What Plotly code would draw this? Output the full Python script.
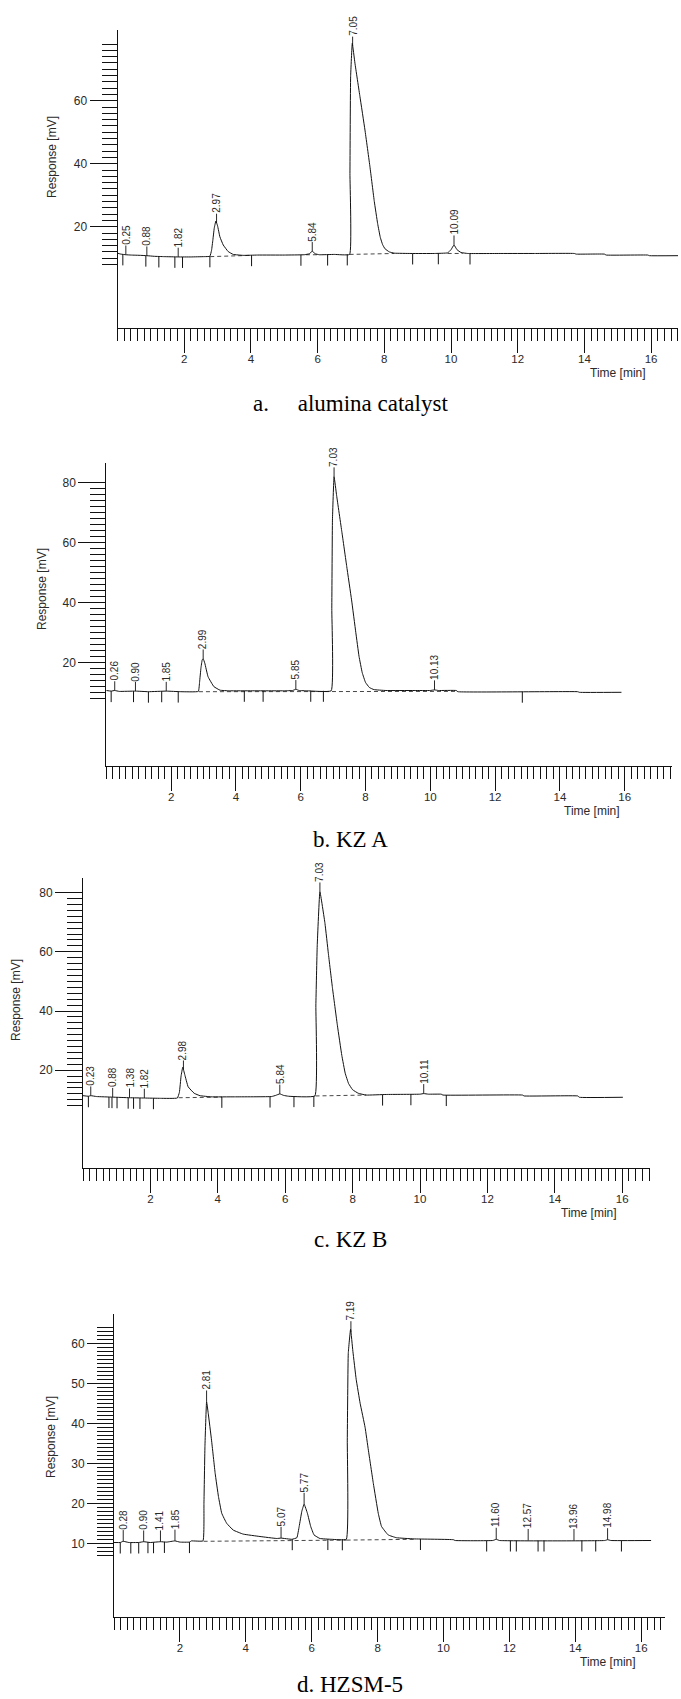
import numpy as np
import plotly.graph_objects as go

W, H = 681, 1699

# ---------------- data ----------------
# a. alumina catalyst
a_time = [0.00, 0.10, 0.25, 0.40, 0.70, 0.88, 1.10, 1.40, 1.82, 2.20, 2.60, 2.77,
          2.82, 2.86, 2.90, 2.95, 3.00, 3.07, 3.17, 3.32, 3.47, 3.77, 4.20, 5.00,
          5.60, 5.75, 5.84, 5.93, 6.05, 6.50, 6.96, 6.97, 6.99, 7.04, 7.12, 7.27,
          7.42, 7.57, 7.70, 7.80, 7.88, 7.95, 8.02, 8.15, 8.30, 8.80, 9.50, 9.90,
          10.00, 10.09, 10.18, 10.30, 10.50, 11.50, 12.50, 13.70, 13.75, 14.60, 14.65, 15.90,
          15.95, 16.81]
a_resp = [11.6, 11.3, 11.1, 11.0, 10.9, 10.8, 10.6, 10.5, 10.4, 10.4, 10.5, 10.6,
          12.5, 15.8, 19.5, 21.8, 20.3, 16.8, 14.2, 12.1, 11.2, 10.9, 11.0, 11.0,
          11.1, 11.4, 12.2, 11.4, 11.1, 11.2, 11.2, 36.9, 67.6, 78.2, 71.9, 61.3,
          50.7, 39.0, 28.0, 21.0, 16.6, 14.3, 13.0, 12.0, 11.6, 11.5, 11.5, 11.7,
          12.7, 14.2, 12.7, 11.8, 11.5, 11.5, 11.5, 11.5, 11.3, 11.3, 11.0, 11.0,
          10.8, 10.8]
a_peak_labels = ["0.25", "0.88", "1.82", "2.97", "5.84", "7.05", "10.09"]
a_marks = [0.16, 0.85, 1.24, 1.72, 1.95, 2.77, 4.02, 5.50, 6.30, 6.89, 8.85, 9.62, 10.57]
a_base_time = [[2.78, 4.00], [5.65, 6.05], [6.96, 8.30], [9.90, 10.35]]
a_base_resp = [[10.5, 10.9], [11.1, 11.1], [11.2, 11.5], [11.5, 11.5]]
a_ytick_labels = [20, 40, 60]

# b. KZ A
b_time = [0.00, 0.15, 0.26, 0.40, 0.90, 1.30, 1.85, 2.30,
          2.84, 2.88, 2.92, 2.96, 2.99, 3.04, 3.14, 3.32, 3.51, 3.80,
          4.50, 5.50, 5.75, 5.85, 5.95, 6.20, 6.94, 6.96, 6.98, 7.03,
          7.11, 7.27, 7.42, 7.57, 7.70, 7.80, 7.90, 8.00, 8.12, 8.26, 8.63,
          9.50, 10.00, 10.13, 10.25, 10.80, 10.85, 14.55, 14.60, 15.90]
b_resp = [10.6, 10.4, 10.6, 10.3, 10.4, 10.2, 10.4, 10.2,
          10.3, 13.5, 18.0, 20.8, 21.2, 19.7, 15.2, 11.9, 10.7, 10.5,
          10.5, 10.5, 10.6, 11.0, 10.6, 10.5, 10.5, 38.0, 67.4, 81.9,
          75.5, 63.5, 52.0, 40.8, 30.0, 22.0, 16.5, 13.3, 11.6, 10.9, 10.6,
          10.6, 10.6, 10.8, 10.6, 10.6, 10.2, 10.2, 10.0, 10.0]
b_peak_labels = ["0.26", "0.90", "1.85", "2.99", "5.85", "7.03", "10.13"]
b_marks = [0.15, 0.84, 1.30, 1.71, 2.22, 4.26, 4.84, 6.31, 6.70, 12.84]
b_base_time = [[2.86, 10.85]]
b_base_resp = [[10.2, 10.3]]
b_ytick_labels = [20, 40, 60, 80]

# c. KZ B
c_time = [0.00, 0.16, 0.23, 0.40, 0.88, 1.38, 1.82, 2.30,
          2.80, 2.86, 2.91, 2.96, 3.02, 3.12, 3.30, 3.47, 3.80, 4.50,
          5.60, 5.72, 5.84, 5.95, 6.10, 6.88, 6.91, 6.95, 7.03, 7.18,
          7.28, 7.40, 7.55, 7.68, 7.78, 7.88, 8.00, 8.17, 8.40, 9.00, 10.00,
          10.11, 10.25, 10.63, 10.68, 13.04, 13.09, 14.68, 14.73, 16.02]
c_resp = [11.4, 11.2, 11.4, 11.1, 10.9, 10.7, 10.6, 10.5,
          10.6, 12.5, 18.0, 21.0, 18.5, 14.4, 12.2, 11.4, 11.0, 11.0,
          11.1, 11.5, 12.0, 11.5, 11.2, 11.3, 42.0, 62.0, 80.3, 69.6,
          59.5, 48.0, 35.0, 25.0, 19.0, 15.5, 13.4, 12.2, 11.6, 11.8, 11.9,
          12.1, 11.9, 11.9, 11.6, 11.6, 11.3, 11.3, 10.85, 10.85]
c_peak_labels = ["0.23", "0.88", "1.38", "1.82", "2.98", "5.84", "7.03", "10.11"]
c_marks = [0.16, 0.77, 0.86, 1.01, 1.34, 1.50, 1.69, 2.09, 4.12, 5.55, 6.26, 6.85,
           8.89, 9.73, 10.78]
c_base_time = [[2.84, 4.12], [6.90, 8.40]]
c_base_resp = [[10.7, 10.9], [11.3, 11.6]]
c_ytick_labels = [20, 40, 60, 80]

# d. HZSM-5
d_time = [0.00, 0.19, 0.28, 0.45, 0.75, 0.90, 1.10, 1.41, 1.60, 1.85,
          2.00, 2.29, 2.35, 2.70, 2.73, 2.76, 2.81, 2.86, 2.96, 3.07,
          3.17, 3.27, 3.42, 3.62, 3.92, 4.43, 4.94, 5.07, 5.40, 5.55,
          5.62, 5.70, 5.77, 5.87, 5.97, 6.07, 6.25, 6.60, 7.05, 7.08,
          7.11, 7.18, 7.25, 7.35, 7.47, 7.62, 7.72, 7.87, 8.02, 8.12,
          8.32, 8.57, 9.10, 10.30, 10.35, 11.50, 11.60, 11.70, 14.90, 14.98,
          15.08, 16.30]
d_resp = [10.2, 10.2, 10.5, 10.2, 10.2, 10.4, 10.2, 10.4, 10.3, 10.6,
          10.3, 10.3, 10.6, 10.6, 20.0, 34.2, 45.4, 42.5, 35.8, 27.5,
          21.7, 17.5, 15.0, 13.3, 12.3, 11.7, 11.2, 11.3, 11.0, 11.4,
          14.2, 18.0, 19.8, 17.5, 14.2, 12.1, 11.2, 11.0, 11.0, 35.8,
          57.5, 63.5, 58.0, 51.0, 45.0, 39.0, 33.3, 25.0, 17.5, 14.2,
          12.1, 11.4, 11.1, 10.9, 10.7, 10.7, 11.0, 10.7, 10.7, 10.9,
          10.7, 10.7]
d_peak_labels = ["0.28", "0.90", "1.41", "1.85", "2.81", "5.07", "5.77", "7.19",
                 "11.60", "12.57", "13.96", "14.98"]
d_marks = [0.19, 0.51, 0.75, 1.03, 1.20, 1.53, 2.29, 5.41, 6.49, 6.93, 9.30, 11.31,
           12.03, 12.21, 12.87, 13.05, 14.20, 14.62, 15.40]
d_base_time = [[2.72, 7.06], [7.06, 9.10]]
d_base_resp = [[10.5, 10.8], [10.8, 11.0]]
d_ytick_labels = [10, 20, 30, 40, 50, 60]

x_tick_labels = [2, 4, 6, 8, 10, 12, 14, 16]
captions = ["a.\u00a0\u00a0\u00a0\u00a0\u00a0alumina catalyst", "b. KZ A", "c. KZ B", "d. HZSM-5"]

# ---------------- layout geometry (pixels) ----------------
GEOM = [
    dict(left=117.5, right=678, top=30, bottom=328.3, pxpm=33.35, yref_px=226.7, vref=20,
         pxmv=3.15, ymaj=(10, 70, 10), ymin_t=(8, 78, 2), ymajlen=27, yminlen=15,
         resp_xy=(52, 157), gap=9, cap_dy=75),
    dict(left=106.3, right=672, top=463.3, bottom=766, pxpm=32.4, yref_px=662.3, vref=20,
         pxmv=3.0, ymaj=(10, 80, 10), ymin_t=(8, 80, 2), ymajlen=27, yminlen=15,
         resp_xy=(42, 589), gap=9, cap_dy=73),
    dict(left=83, right=650, top=878.3, bottom=1168.3, pxpm=33.7, yref_px=1070.2, vref=20,
         pxmv=2.96, ymaj=(10, 80, 10), ymin_t=(8, 80, 2), ymajlen=27, yminlen=15,
         resp_xy=(16, 1000), gap=9, cap_dy=71),
    dict(left=114, right=665, top=1314, bottom=1616.7, pxpm=32.95, yref_px=1503.3, vref=20,
         pxmv=4.0, ymaj=(10, 60, 5), ymin_t=(7, 64, 1), ymajlen=26, yminlen=16,
         resp_xy=(51, 1437), gap=11, cap_dy=71),
]

PANELS = [
    (a_time, a_resp, a_peak_labels, a_marks, a_base_time, a_base_resp, a_ytick_labels),
    (b_time, b_resp, b_peak_labels, b_marks, b_base_time, b_base_resp, b_ytick_labels),
    (c_time, c_resp, c_peak_labels, c_marks, c_base_time, c_base_resp, c_ytick_labels),
    (d_time, d_resp, d_peak_labels, d_marks, d_base_time, d_base_resp, d_ytick_labels),
]

INK = "#111111"
TXT = "#2a2a2a"
SANS = "Liberation Sans, Arial, sans-serif"
SERIF = "Liberation Serif, Times New Roman, serif"
CAP_SIZE = 23

fig = go.Figure()
annotations = []
layout = {}

def px2paper(x, y):
    return x / W, 1 - y / H

for i, (g, p) in enumerate(zip(GEOM, PANELS), start=1):
    T, V, labels, marks, bt, bv, ylabels = p
    assert len(T) == len(V)
    xr = 'x' if i == 1 else f'x{i}'
    yr = 'y' if i == 1 else f'y{i}'
    xmax = (g['right'] - g['left']) / g['pxpm']
    ymax = g['vref'] + (g['yref_px'] - g['top']) / g['pxmv']
    ymin = g['vref'] - (g['bottom'] - g['yref_px']) / g['pxmv']

    # dashed baselines
    for seg_t, seg_v in zip(bt, bv):
        fig.add_trace(go.Scatter(x=seg_t, y=seg_v, mode='lines', xaxis=xr, yaxis=yr,
                                 line=dict(color='#333333', width=0.9, dash='4px,3px'),
                                 hoverinfo='skip'))
    # integration markers
    mk_len = 11 / g['pxmv']
    mx, my = [], []
    for m in marks:
        v0 = float(np.interp(m, T, V))
        mx += [m, m, None]
        my += [v0, v0 - mk_len, None]
    fig.add_trace(go.Scatter(x=mx, y=my, mode='lines', xaxis=xr, yaxis=yr,
                             line=dict(color=INK, width=1), hoverinfo='skip'))
    # chromatogram
    fig.add_trace(go.Scatter(x=T, y=V, mode='lines', xaxis=xr, yaxis=yr,
                             line=dict(color=INK, width=1, shape='spline', smoothing=0.3)))

    # peak labels
    for lab in labels:
        t = float(lab)
        v = float(np.interp(t, T, V))
        n_dig = sum(ch.isdigit() for ch in lab)
        tlen = n_dig * 5.56 + 2.78
        annotations.append(dict(
            x=t, y=v, xref=xr, yref=yr, text=lab, textangle=-90,
            showarrow=True, arrowhead=0, arrowwidth=0.9, arrowcolor=INK,
            ax=0, ay=-(g['gap'] + tlen / 2 + 1), standoff=0, borderpad=0,
            font=dict(family=SANS, size=10, color=TXT)))

    xdom = [g['left'] / W, g['right'] / W]
    ydom = [1 - g['bottom'] / H, 1 - g['top'] / H]

    ymaj = list(np.arange(g['ymaj'][0], g['ymaj'][1] + 0.001, g['ymaj'][2]))
    ymin_v = list(np.arange(g['ymin_t'][0], g['ymin_t'][1] + 0.001, g['ymin_t'][2]))
    ytext = [str(int(round(v))) if int(round(v)) in ylabels else '' for v in ymaj]

    xmaj = list(range(0, int(np.floor(xmax)) + 1))
    xtext = [str(k) if k in x_tick_labels else '' for k in xmaj]
    xmin_v = [round(0.2 * k, 2) for k in range(0, int(np.floor(xmax / 0.2)) + 1)]

    layout['xaxis' if i == 1 else f'xaxis{i}'] = dict(
        domain=xdom, range=[0, xmax], anchor=yr, showgrid=False, zeroline=False,
        showline=True, linecolor=INK, linewidth=1,
        tickmode='array', tickvals=xmaj, ticktext=xtext, ticks='outside',
        ticklen=24, tickwidth=1, tickcolor=INK, ticklabelstandoff=-4,
        tickfont=dict(family=SANS, size=11.5, color=TXT),
        minor=dict(tickmode='array', tickvals=xmin_v, ticks='outside', ticklen=12,
                   tickwidth=1, tickcolor=INK, showgrid=False),
        fixedrange=True)
    layout['yaxis' if i == 1 else f'yaxis{i}'] = dict(
        domain=ydom, range=[ymin, ymax], anchor=xr, showgrid=False, zeroline=False,
        showline=True, linecolor=INK, linewidth=1,
        tickmode='array', tickvals=ymaj, ticktext=ytext, ticks='outside',
        ticklen=g['ymajlen'], tickwidth=1, tickcolor=INK,
        tickfont=dict(family=SANS, size=12, color=TXT),
        minor=dict(tickmode='array', tickvals=ymin_v, ticks='outside', ticklen=g['yminlen'],
                   tickwidth=1, tickcolor=INK, showgrid=False),
        fixedrange=True)

    # axis titles
    rx, ry = px2paper(*g['resp_xy'])
    annotations.append(dict(x=rx, y=ry, xref='paper', yref='paper', text='Response [mV]',
                            textangle=-90, showarrow=False, xanchor='center', yanchor='middle',
                            font=dict(family=SANS, size=12, color=TXT)))
    x16 = g['left'] + 16 * g['pxpm']
    tx, ty = px2paper(x16 - 3, g['bottom'] + 45)
    annotations.append(dict(x=tx, y=ty, xref='paper', yref='paper', text='Time [min]',
                            showarrow=False, xanchor='right', yanchor='middle',
                            font=dict(family=SANS, size=12, color=TXT)))
    # caption (kept fully inside the page)
    cap_center = g['bottom'] + g['cap_dy']
    half_box = CAP_SIZE * 0.62
    if cap_center + half_box > H - 1:
        cx, cy = px2paper(350, H - 1)
        yanc = 'bottom'
    else:
        cx, cy = px2paper(350, cap_center)
        yanc = 'middle'
    annotations.append(dict(x=cx, y=cy, xref='paper', yref='paper', text=captions[i - 1],
                            showarrow=False, xanchor='center', yanchor=yanc, borderpad=0,
                            font=dict(family=SERIF, size=CAP_SIZE, color='#000000')))

fig.update_layout(width=W, height=H, margin=dict(l=0, r=0, t=0, b=0),
                  paper_bgcolor='white', plot_bgcolor='rgba(0,0,0,0)',
                  showlegend=False, annotations=annotations, **layout)

fig.write_html("out.html", config={'displayModeBar': False},
               post_script="document.body.style.margin='0';document.body.style.padding='0';")
